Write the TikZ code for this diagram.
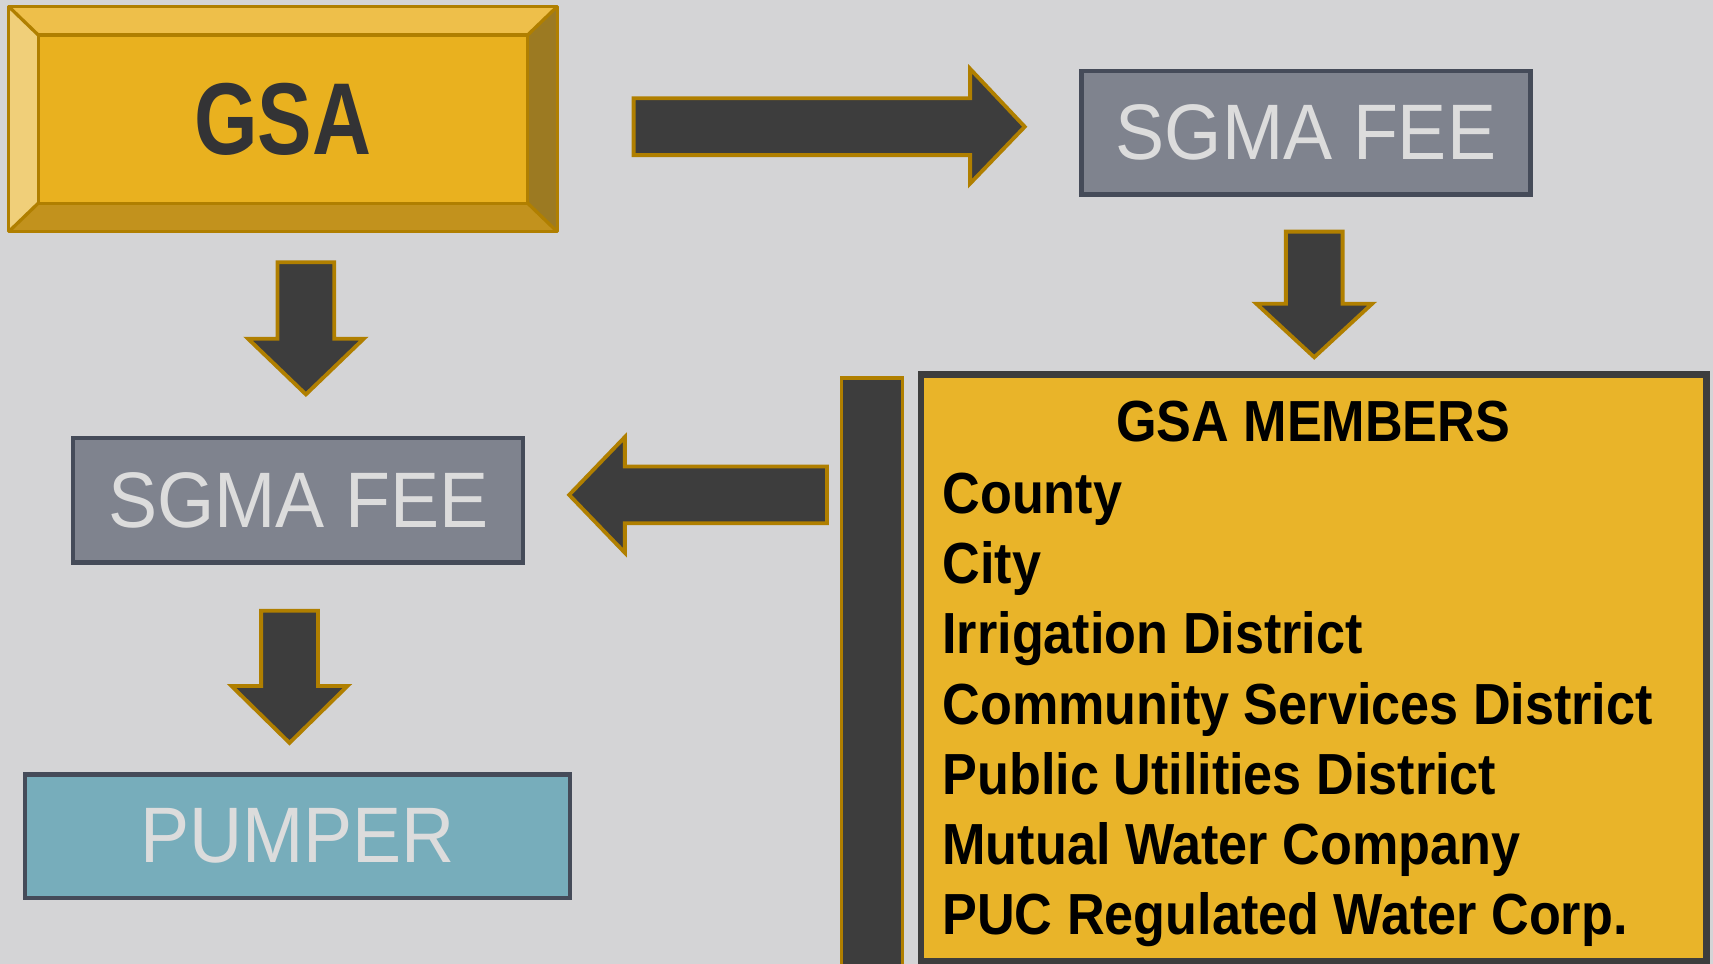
\documentclass[tikz,border=0pt]{standalone}
\usepackage{fontspec}
\usepackage{tikz}
\setmainfont{Liberation Sans}
\newfontfamily\feefont[FakeStretch=0.935]{Liberation Sans}
\newfontfamily\memfont[FakeStretch=0.9]{Liberation Sans}
\newfontfamily\gsafont[FakeStretch=0.8]{Liberation Sans}

\definecolor{bg}{RGB}{212,212,214}
\definecolor{gold}{RGB}{176,127,0}
\definecolor{gsaface}{RGB}{233,177,31}
\definecolor{bevtop}{RGB}{238,191,74}
\definecolor{bevleft}{RGB}{240,207,121}
\definecolor{bevright}{RGB}{156,122,34}
\definecolor{bevbottom}{RGB}{194,146,29}
\definecolor{arrowgray}{RGB}{61,61,61}
\definecolor{feegray}{RGB}{127,131,142}
\definecolor{boxline}{RGB}{69,75,89}
\definecolor{lighttext}{RGB}{220,220,220}
\definecolor{pumpblue}{RGB}{119,173,187}
\definecolor{memgold}{RGB}{233,180,41}
\definecolor{gsatext}{RGB}{51,51,53}

\tikzset{
	goldline/.style={draw=gold, line width=0.3mm, line join=round},
	blockarrow/.style={fill=arrowgray, draw=gold, line width=0.35mm},
	feebox/.style={draw=boxline, fill=feegray, line width=0.4mm, text=lighttext, inner sep=0pt,
		font=\feefont\fontsize{20.5}{24}\selectfont},
	memtext/.style={text=black, inner sep=0pt, font=\memfont\bfseries\fontsize{15.1}{18}\selectfont}
}

\begin{document}
\begin{tikzpicture}[x=0.1mm, y=-0.1mm]
\useasboundingbox (0,0) rectangle (1568,882);
\fill[bg] (0,0) rectangle (1568,882);

% GSA block with bevels
\fill[bevtop] (8,6) -- (510,6) -- (483,32) -- (35,32) -- cycle;
\fill[bevright] (510,6) -- (510,212) -- (483,186) -- (483,32) -- cycle;
\fill[bevbottom] (510,212) -- (8,212) -- (35,186) -- (483,186) -- cycle;
\fill[bevleft] (8,212) -- (8,6) -- (35,32) -- (35,186) -- cycle;
\node[goldline, fill=gsaface, minimum width=44.8mm, minimum height=15.4mm, inner sep=0pt,
	text=gsatext, font=\gsafont\bfseries\fontsize{26.6}{30}\selectfont] (gsa) at (259,109) {GSA};
\draw[goldline] (8,6) rectangle (510,212);
\draw[goldline] (8,6) -- (35,32) (510,6) -- (483,32) (510,212) -- (483,186) (8,212) -- (35,186);

% fee and pumper boxes
\node[feebox, minimum width=41.1mm, minimum height=11.3mm] (feetop) at (1195.5,121.5) {SGMA FEE};
\node[feebox, minimum width=41.2mm, minimum height=11.4mm] (feeleft) at (273,458) {SGMA FEE};
\node[feebox, fill=pumpblue, minimum width=49.9mm, minimum height=11.3mm] (pumper) at (272.5,765.5) {PUMPER};

% members
\node[draw=arrowgray, fill=memgold, line width=0.6mm, minimum width=71.9mm, minimum height=53.7mm] (members) at (1202.5,611.5) {};
\node[draw=gold, fill=arrowgray, line width=0.3mm, minimum width=5.6mm, minimum height=55mm] (bar) at (798,621) {};
\node[memtext, anchor=base] (memtitle) at (1202,404) {GSA MEMBERS};
\foreach \name [count=\i] in {County, City, Irrigation District, Community Services District,
	Public Utilities District, Mutual Water Company, PUC Regulated Water Corp.}
{
	\node[memtext, anchor=base west] (mem\i) at (862, {405.7+64.3*\i}) {\name};
}

% arrows
\draw[blockarrow] (580,90) -- (888,90) -- (888,63) -- (938,116) -- (888,168) -- (888,142) -- (580,142) -- cycle;
\draw[blockarrow] (757,427) -- (572,427) -- (572,400) -- (521,453) -- (572,506) -- (572,479) -- (757,479) -- cycle;
\foreach \cx/\ty/\hy/\by in {280/240/310/361, 265/559/628/680, 1203/212/278/327}
{
	\draw[blockarrow] ({\cx-26},\ty) -- ({\cx+26},\ty) -- ({\cx+26},\hy) -- ({\cx+53},\hy) -- (\cx,\by)
		-- ({\cx-53},\hy) -- ({\cx-26},\hy) -- cycle;
}
\end{tikzpicture}
\end{document}
